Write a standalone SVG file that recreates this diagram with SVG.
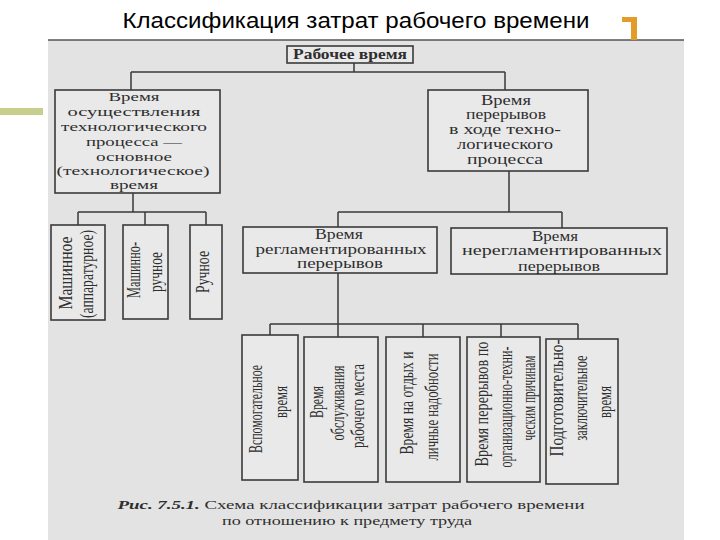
<svg xmlns="http://www.w3.org/2000/svg" width="720" height="540" viewBox="0 0 720 540">
<style>
.page{fill:#E3E3E3}
.box{fill:#E9E9E9;stroke:#3A3A3A;stroke-width:1.6}
.ln{stroke:#3A3A3A;stroke-width:1.5;fill:none}
.t{font-family:"Liberation Serif","DejaVu Serif",serif;font-size:14px;fill:#2E2E2E;text-anchor:middle}
.s{font-size:13px}
.r{font-family:"Liberation Serif","DejaVu Serif",serif;font-size:18px;fill:#2E2E2E;text-anchor:middle}
.title{font-family:"Liberation Sans",Arial,sans-serif;font-size:22px;fill:#000;text-anchor:middle}
.cap{font-family:"Liberation Serif","DejaVu Serif",serif;font-size:13px;fill:#2E2E2E;text-anchor:middle}
</style>
<rect x="0" y="0" width="720" height="540" fill="#FFFFFF"/>
<rect class="page" x="48" y="40" width="636" height="500"/>
<line x1="48" y1="40" x2="684" y2="40" stroke="#555" stroke-width="1.5"/>
<rect x="0" y="108" width="43" height="7" fill="#C8CE8C"/>
<path d="M622 17 H637 V40 H631 V22 H622 Z" fill="#E39B2A"/>
<text class="title" x="356" y="28" textLength="467" lengthAdjust="spacingAndGlyphs">Классификация затрат рабочего времени</text>

<g id="connectors">
<path class="ln" d="M354 63 V72 M131 72 H505 M131 72 V90 M505 72 V90"/>
<path class="ln" d="M133 193 V212 M78 212 H206 M78 212 V225 M145 212 V225 M206 212 V225"/>
<path class="ln" d="M509 171 V212 M338 212 H562 M338 212 V227 M562 212 V228"/>
<path class="ln" d="M338 273 V337 M270 324 H578 M270 324 V335 M423 324 V337 M501 324 V337 M578 324 V339"/>
</g>

<g id="root">
<rect class="box" x="287" y="46" width="126" height="17"/>
<text class="t" x="350" y="59" font-size="13" font-weight="bold" textLength="114" lengthAdjust="spacingAndGlyphs">Рабочее время</text>
</g>

<g id="main-time">
<rect class="box" x="55" y="90" width="165" height="103"/>
<text class="t s" x="134" y="101" textLength="51" lengthAdjust="spacingAndGlyphs">Время</text>
<text class="t s" x="134" y="116" textLength="133" lengthAdjust="spacingAndGlyphs">осуществления</text>
<text class="t s" x="134" y="131" textLength="146" lengthAdjust="spacingAndGlyphs">технологического</text>
<text class="t s" x="134" y="146" textLength="96" lengthAdjust="spacingAndGlyphs">процесса —</text>
<text class="t s" x="134" y="161" textLength="76" lengthAdjust="spacingAndGlyphs">основное</text>
<text class="t s" x="133" y="175" textLength="153" lengthAdjust="spacingAndGlyphs">(технологическое)</text>
<text class="t s" x="134" y="189" textLength="48" lengthAdjust="spacingAndGlyphs">время</text>
</g>

<g id="breaks-time">
<rect class="box" x="428" y="90" width="160" height="81"/>
<text class="t" x="506" y="105" textLength="50" lengthAdjust="spacingAndGlyphs">Время</text>
<text class="t" x="506" y="119" textLength="80" lengthAdjust="spacingAndGlyphs">перерывов</text>
<text class="t" x="505" y="134" textLength="112" lengthAdjust="spacingAndGlyphs">в ходе техно-</text>
<text class="t" x="505" y="149" textLength="96" lengthAdjust="spacingAndGlyphs">логического</text>
<text class="t" x="505" y="164" textLength="76" lengthAdjust="spacingAndGlyphs">процесса</text>
</g>

<g id="machine">
<rect class="box" x="51" y="225" width="54" height="95"/>
<text class="r" transform="translate(72,273) rotate(-90)" textLength="73" lengthAdjust="spacingAndGlyphs">Машинное</text>
<text class="r" transform="translate(93,274) rotate(-90)" textLength="88" lengthAdjust="spacingAndGlyphs">(аппаратурное)</text>
</g>

<g id="machine-manual">
<rect class="box" x="123" y="225" width="45" height="94"/>
<text class="r" transform="translate(140,270) rotate(-90)" textLength="56" lengthAdjust="spacingAndGlyphs">Машинно-</text>
<text class="r" transform="translate(162,272) rotate(-90)" textLength="40" lengthAdjust="spacingAndGlyphs">ручное</text>
</g>

<g id="manual">
<rect class="box" x="190" y="225" width="32" height="94"/>
<text class="r" transform="translate(209,272) rotate(-90)" textLength="42" lengthAdjust="spacingAndGlyphs">Ручное</text>
</g>

<g id="regulated">
<rect class="box" x="243" y="227" width="194" height="46"/>
<text class="t" x="339" y="239" textLength="48" lengthAdjust="spacingAndGlyphs">Время</text>
<text class="t" x="341" y="254" textLength="171" lengthAdjust="spacingAndGlyphs">регламентированных</text>
<text class="t" x="340" y="268" textLength="86" lengthAdjust="spacingAndGlyphs">перерывов</text>
</g>

<g id="unregulated">
<rect class="box" x="451" y="228" width="216" height="46"/>
<text class="t" x="555" y="241" textLength="46" lengthAdjust="spacingAndGlyphs">Время</text>
<text class="t" x="562" y="255" textLength="200" lengthAdjust="spacingAndGlyphs">нерегламентированных</text>
<text class="t" x="559" y="271" textLength="82" lengthAdjust="spacingAndGlyphs">перерывов</text>
</g>

<g id="auxiliary">
<rect class="box" x="242" y="335" width="56" height="145"/>
<text class="r" transform="translate(262,409) rotate(-90)" textLength="88" lengthAdjust="spacingAndGlyphs">Вспомогательное</text>
<text class="r" transform="translate(287,402) rotate(-90)" textLength="32" lengthAdjust="spacingAndGlyphs">время</text>
</g>

<g id="service">
<rect class="box" x="304" y="337" width="74" height="145"/>
<text class="r" transform="translate(323,402) rotate(-90)" textLength="32" lengthAdjust="spacingAndGlyphs">Время</text>
<text class="r" transform="translate(344,403) rotate(-90)" textLength="75" lengthAdjust="spacingAndGlyphs">обслуживания</text>
<text class="r" transform="translate(364,406) rotate(-90)" textLength="84" lengthAdjust="spacingAndGlyphs">рабочего места</text>
</g>

<g id="rest">
<rect class="box" x="386" y="337" width="74" height="145"/>
<text class="r" transform="translate(413,403) rotate(-90)" textLength="103" lengthAdjust="spacingAndGlyphs">Время на отдых и</text>
<text class="r" transform="translate(438,407) rotate(-90)" textLength="107" lengthAdjust="spacingAndGlyphs">личные надобности</text>
</g>

<g id="org-breaks">
<rect class="box" x="467" y="337" width="73" height="145"/>
<text class="r" transform="translate(488,404) rotate(-90)" textLength="125" lengthAdjust="spacingAndGlyphs">Время перерывов по</text>
<text class="r" transform="translate(512,407) rotate(-90)" textLength="121" lengthAdjust="spacingAndGlyphs">организационно-техни-</text>
<text class="r" transform="translate(535,398) rotate(-90)" textLength="85" lengthAdjust="spacingAndGlyphs">ческим причинам</text>
</g>

<g id="prep-final">
<rect class="box" x="546" y="339" width="72" height="145"/>
<text class="r" transform="translate(563,398) rotate(-90)" textLength="117" lengthAdjust="spacingAndGlyphs">Подготовительно-</text>
<text class="r" transform="translate(587,398) rotate(-90)" textLength="85" lengthAdjust="spacingAndGlyphs">заключительное</text>
<text class="r" transform="translate(611,402) rotate(-90)" textLength="32" lengthAdjust="spacingAndGlyphs">время</text>
</g>

<g id="caption">
<text class="cap" x="351" y="509" textLength="467" lengthAdjust="spacingAndGlyphs"><tspan font-weight="bold" font-style="italic">Рис. 7.5.1.</tspan> Схема классификации затрат рабочего времени</text>
<text class="cap" x="347" y="525" textLength="250" lengthAdjust="spacingAndGlyphs">по отношению к предмету труда</text>
</g>
</svg>
